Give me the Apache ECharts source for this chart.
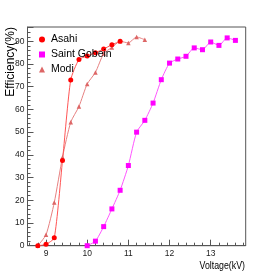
<!DOCTYPE html>
<html><head><meta charset="utf-8">
<script src="https://cdn.jsdelivr.net/npm/echarts@6/dist/echarts.min.js"></script>
<style>html,body{margin:0;padding:0;background:#fff}#c{width:273px;height:273px}</style>
</head><body><div id="c"></div>
<script>
var asahiX = [8.8, 9.0, 9.2, 9.4, 9.6, 9.8, 10.0, 10.2, 10.4, 10.6, 10.8];
var asahiY = [0, 0.6, 3.5, 37.5, 73.0, 82.0, 83.5, 85.0, 86.6, 88.5, 90.0];
var sgX = [10.0, 10.2, 10.4, 10.6, 10.8, 11.0, 11.2, 11.4, 11.6, 11.8, 12.0, 12.2, 12.4, 12.6, 12.8, 13.0, 13.2, 13.4, 13.6];
var sgY = [0, 2.0, 8.4, 16.2, 24.4, 35.3, 50.0, 55.2, 62.8, 73.1, 80.4, 82.2, 83.4, 87.1, 86.3, 89.7, 88.2, 91.5, 90.4];
var modiX = [8.8, 9.0, 9.2, 9.4, 9.6, 9.8, 10.0, 10.2, 10.4, 10.6, 10.8, 11.0, 11.2, 11.4];
var modiY = [0, 4.8, 19.0, 39.0, 54.4, 61.3, 71.2, 76.3, 84.6, 87.3, 90.0, 89.3, 91.9, 90.7];
var xMajor = [9, 10, 11, 12, 13];
var xMinor = [8.6, 8.8, 9.2, 9.4, 9.6, 9.8, 10.2, 10.4, 10.6, 10.8, 11.2, 11.4, 11.6, 11.8, 12.2, 12.4, 12.6, 12.8, 13.2, 13.4, 13.6, 13.8];

function pairs(xs, ys){ return xs.map(function(x,i){return [x, ys[i]];}); }
var font = '"Liberation Sans", Arial, sans-serif';
var chart = echarts.init(document.getElementById('c'));
chart.setOption({
  animation: false,
  grid: {left: 27.5, right: 27.3, top: 27, bottom: 27.3, show: true, borderColor: '#555', borderWidth: 1},
  xAxis: [{
    type: 'value', min: 8.55, max: 13.85,
    axisLine: {lineStyle: {color: '#555'}},
    axisTick: {inside: true, length: 6, customValues: xMajor, lineStyle: {color: '#555'}},
    axisLabel: {customValues: xMajor, fontSize: 8.5, color: '#222', fontFamily: font, margin: 3},
    splitLine: {show: false}
  }, {
    type: 'value', min: 8.55, max: 13.85, position: 'bottom',
    axisLine: {show: false},
    axisTick: {inside: true, length: 3, customValues: xMinor, lineStyle: {color: '#555'}},
    axisLabel: {show: false},
    splitLine: {show: false}
  }],
  yAxis: {
    type: 'value', min: 0, max: 96.3, interval: 10,
    axisLine: {show: true, lineStyle: {color: '#555'}},
    axisTick: {show: true, inside: true, length: 6, lineStyle: {color: '#555'}},
    minorTick: {show: true, splitNumber: 5, length: 3, lineStyle: {color: '#555'}},
    axisLabel: {fontSize: 8.5, color: '#222', fontFamily: font, margin: 3,
      formatter: function(v){ return (v % 10 === 0) ? String(v) : ''; }},
    splitLine: {show: false}
  },
  legend: {
    orient: 'vertical', left: 34, top: 29, itemGap: 4, itemWidth: 6, itemHeight: 6,
    textStyle: {fontSize: 10.5, color: '#000', fontFamily: font, padding: [0,0,0,1]},
    data: [{name: 'Asahi', icon: 'circle'}, {name: 'Saint Gobein', icon: 'rect'}, {name: 'Modi', icon: 'triangle'}]
  },
  series: [{
    name: 'Modi', type: 'line', data: pairs(modiX, modiY), smooth: 0.2,
    symbol: 'triangle', symbolSize: 4.5, itemStyle: {color: '#dd6666'}, lineStyle: {width: 1, color: '#e68080'}
  }, {
    name: 'Asahi', type: 'line', data: pairs(asahiX, asahiY), smooth: 0.2,
    symbol: 'circle', symbolSize: 5, itemStyle: {color: '#ff0000'}, lineStyle: {width: 1, color: '#ff5555'}
  }, {
    name: 'Saint Gobein', type: 'line', data: pairs(sgX, sgY), smooth: 0.2,
    symbol: 'rect', symbolSize: 5, itemStyle: {color: '#ff00ff'}, lineStyle: {width: 1, color: '#ff55ff'}
  }],
  graphic: [{
    type: 'text', x: 11, y: 27, rotation: Math.PI / 2,
    style: {text: 'Efficiency(%)', textAlign: 'right', textVerticalAlign: 'middle', fontSize: 12, fill: '#000', fontFamily: font}
  }, {
    type: 'text', x: 245, y: 266, scaleX: 0.8,
    style: {text: 'Voltage(kV)', textAlign: 'right', textVerticalAlign: 'middle', fontSize: 11, fill: '#000', fontFamily: font}
  }]
});
</script></body></html>
